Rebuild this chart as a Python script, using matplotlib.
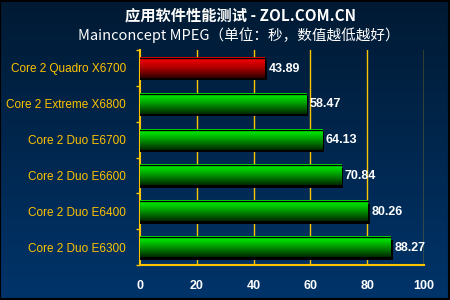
import numpy as np
import matplotlib.pyplot as plt
from matplotlib.colors import LinearSegmentedColormap

plt.rcParams['font.family'] = ['Liberation Sans', 'Noto Sans CJK SC', 'DejaVu Sans']

# datos
cpus = ['Core 2 Quadro X6700', 'Core 2 Extreme X6800', 'Core 2 Duo E6700',
        'Core 2 Duo E6600', 'Core 2 Duo E6400', 'Core 2 Duo E6300']
tiempos = [43.89, 58.47, 64.13, 70.84, 80.26, 88.27]
resaltado = [True, False, False, False, False, False]
ticks_x = [0, 20, 40, 60, 80, 100]

titulo = '应用软件性能测试 - ZOL.COM.CN'
subtitulo = 'Mainconcept MPEG（单位：秒，数值越低越好）'

amarillo = '#FFC400'

fig = plt.figure(figsize=(4.5, 3), dpi=100)

# fondo degradado
bg = fig.add_axes([0, 0, 1, 1], zorder=-10)
fondo = LinearSegmentedColormap.from_list('fondo', ['#00346a', '#001a33'])
bg.imshow(np.linspace(0, 1, 256).reshape(-1, 1), aspect='auto', cmap=fondo,
          extent=[0, 1, 0, 1], origin='lower')
bg.set_xlim(0, 1)
bg.set_ylim(0, 1)
bg.axis('off')
bg.add_patch(plt.Rectangle((0.001, 0.002), 0.997, 0.995, fill=False,
                           edgecolor='black', lw=1.5))

fig.text(0.535, 0.948, titulo, color='white', fontsize=11, fontweight='bold',
         ha='center', va='center', family=['Noto Sans CJK SC', 'DejaVu Sans'])
fig.text(0.53, 0.882, subtitulo, color='white', fontsize=10.5,
         ha='center', va='center', family=['Noto Sans CJK SC', 'DejaVu Sans'])

ax = fig.add_axes([0.3111, 0.1167, 0.6311, 0.7166])
ax.patch.set_alpha(0)

y = np.arange(len(cpus))
alto = 0.56
verde = LinearSegmentedColormap.from_list('verde', ['#002800', '#009a00', '#00ff00'])
rojo = LinearSegmentedColormap.from_list('rojo', ['#300000', '#b00000', '#ff0000'])

dx, dy = 0.7, 0.07
for yi, v, r in zip(y, tiempos, resaltado):
    # sombra
    ax.add_patch(plt.Rectangle((0, yi - alto / 2 + dy), v + dx, alto,
                               facecolor='black', edgecolor='none', zorder=3))
    cmap = rojo if r else verde
    ax.imshow(np.linspace(0, 1, 64).reshape(-1, 1), aspect='auto', cmap=cmap,
              extent=[0, v, yi + alto / 2, yi - alto / 2], origin='lower',
              zorder=4, interpolation='bilinear')
    ax.plot([0, v], [yi - alto / 2, yi - alto / 2], color='black', lw=1, zorder=5)
    ax.text(v + 1.3, yi + 0.02, f'{v:.2f}', color='white', fontsize=9,
            fontweight='bold', va='center', ha='left', zorder=6)

ax.set_xlim(0, 100)
ax.set_ylim(len(cpus) - 0.5, -0.5)

for t in ticks_x[1:]:
    ax.axvline(t, color=amarillo, lw=1, zorder=1)

ax.set_xticks(ticks_x)
ax.set_xticklabels([str(t) for t in ticks_x], color='white', fontsize=9,
                   fontweight='bold')
ax.tick_params(axis='x', length=0, pad=11)

ax.set_yticks(y)
ax.set_yticklabels(cpus, color=amarillo, fontsize=8.5)
ax.tick_params(axis='y', which='major', length=0, pad=10)
ax.set_yticks(np.arange(len(cpus) + 1) - 0.5, minor=True)
ax.tick_params(axis='y', which='minor', length=3, color=amarillo, width=1)

for lado in ['top', 'right']:
    ax.spines[lado].set_visible(False)
ax.spines['left'].set_color(amarillo)
ax.spines['bottom'].set_color(amarillo)
ax.spines['left'].set_linewidth(1.5)
ax.spines['bottom'].set_linewidth(1.5)

fig.savefig('out.png', dpi=100)
